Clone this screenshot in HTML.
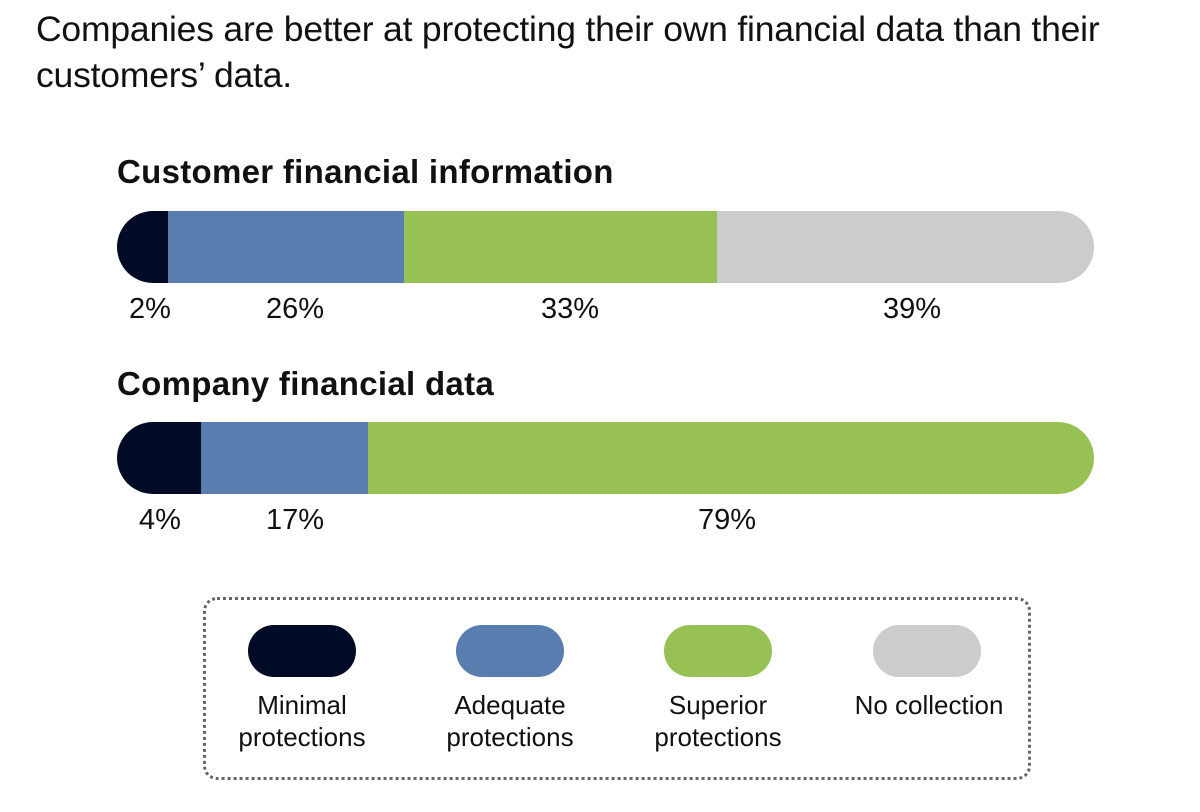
<!DOCTYPE html>
<html><head><style>
body{margin:0;width:1200px;height:812px;background:#fff;font-family:"Liberation Sans",sans-serif;color:#111;position:relative;overflow:hidden}
.a{position:absolute}
.t{left:36px;top:6px;font-size:35.5px;line-height:46px;width:1125px;letter-spacing:-0.2px}
.h{font-size:33px;font-weight:bold;left:117px;letter-spacing:0.3px}
.bar{left:117px;width:977px;height:72px;border-radius:36px;overflow:hidden;display:flex}
.bar div{height:100%}
.l{font-size:29px;transform:translateX(-50%)}
.leg{left:203px;top:597px;width:822px;height:177px;border:3px dotted #666;border-radius:14px}
.p{top:625px;width:108px;height:52px;border-radius:26px}
.lt{top:689px;font-size:26px;line-height:32px;text-align:center;width:220px;transform:translateX(-50%)}
</style></head><body>
<div class="a t">Companies are better at protecting their own financial data than their customers’ data.</div>
<div class="a h" style="top:153px">Customer financial information</div>
<div class="a bar" style="top:211px"><div style="width:51px;background:#020b26"></div><div style="width:236px;background:#5a7db0"></div><div style="width:313px;background:#98c155"></div><div style="flex:1;background:#cccccc"></div></div>
<div class="a l" style="left:150px;top:293px">2%</div>
<div class="a l" style="left:295px;top:293px">26%</div>
<div class="a l" style="left:570px;top:293px">33%</div>
<div class="a l" style="left:912px;top:293px">39%</div>
<div class="a h" style="top:365px">Company financial data</div>
<div class="a bar" style="top:422px"><div style="width:84px;background:#020b26"></div><div style="width:167px;background:#5a7db0"></div><div style="flex:1;background:#98c155"></div></div>
<div class="a l" style="left:160px;top:504px">4%</div>
<div class="a l" style="left:295px;top:504px">17%</div>
<div class="a l" style="left:727px;top:504px">79%</div>
<div class="a leg"></div>
<div class="a p" style="left:248px;background:#020b26"></div>
<div class="a p" style="left:456px;background:#5a7db0"></div>
<div class="a p" style="left:664px;background:#98c155"></div>
<div class="a p" style="left:873px;background:#cccccc"></div>
<div class="a lt" style="left:302px">Minimal<br>protections</div>
<div class="a lt" style="left:510px">Adequate<br>protections</div>
<div class="a lt" style="left:718px">Superior<br>protections</div>
<div class="a lt" style="left:929px">No collection</div>
</body></html>
